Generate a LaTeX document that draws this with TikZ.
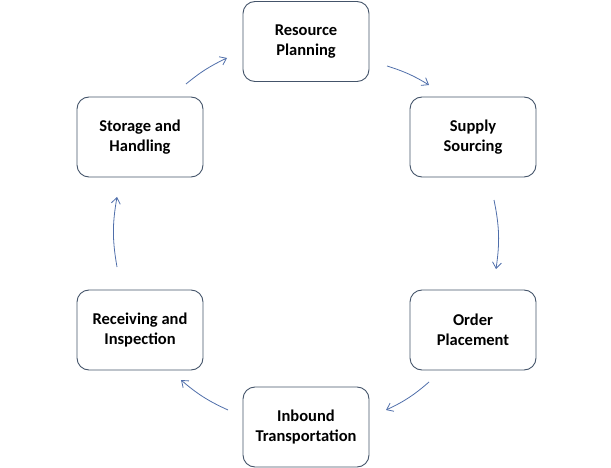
\documentclass[tikz,border=0pt]{standalone}
\usepackage{fontspec}
\setmainfont{Carlito}
\begin{document}
\begin{tikzpicture}[x=1pt,y=-1pt,
  stepbox/.style={draw=boxc, line width=0.9pt, rounded corners=12pt, minimum width=126pt, minimum height=80pt, align=center, font=\fontsize{16.5}{19.5}\selectfont\bfseries, inner sep=0pt},
  flow/.style={draw=arrc, line width=0.8pt, -{Straight Barb[length=6pt,width=9pt]}}]
\definecolor{boxc}{RGB}{68,84,106}
\definecolor{arrc}{RGB}{79,110,170}
\usetikzlibrary{arrows.meta}
\useasboundingbox (0,0) rectangle (611,468);
\node[stepbox] (rp) at (306,41.5) {Resource\\Planning};
\node[stepbox] (ss) at (473,137) {Supply\\Sourcing};
\node[stepbox] (op) at (473,330) {Order\\Placement};
\node[stepbox] (it) at (306,427) {Inbound\\Transportation};
\node[stepbox] (ri) at (140,330) {Receiving and\\Inspection};
\node[stepbox] (sh) at (140,137) {Storage and\\Handling};
\coordinate (c) at (306,234);
\coordinate (a1s) at (186,84);  \coordinate (a1e) at (227,58);
\coordinate (a2s) at (387,66);  \coordinate (a2e) at (429,85);
\coordinate (a3s) at (494,200); \coordinate (a3e) at (496,269);
\coordinate (a4s) at (429,382); \coordinate (a4e) at (386,410);
\coordinate (a5s) at (228,410); \coordinate (a5e) at (181,380);
\coordinate (a6s) at (117,267); \coordinate (a6e) at (117,197);
\draw[flow] (a1s) to[bend left=7] (a1e);
\draw[flow] (a2s) to[bend left=7] (a2e);
\draw[flow] (a3s) to[bend left=10] (a3e);
\draw[flow] (a4s) to[bend left=8] (a4e);
\draw[flow] (a5s) to[bend left=8] (a5e);
\draw[flow] (a6s) to[bend left=10] (a6e);
\end{tikzpicture}
\end{document}
